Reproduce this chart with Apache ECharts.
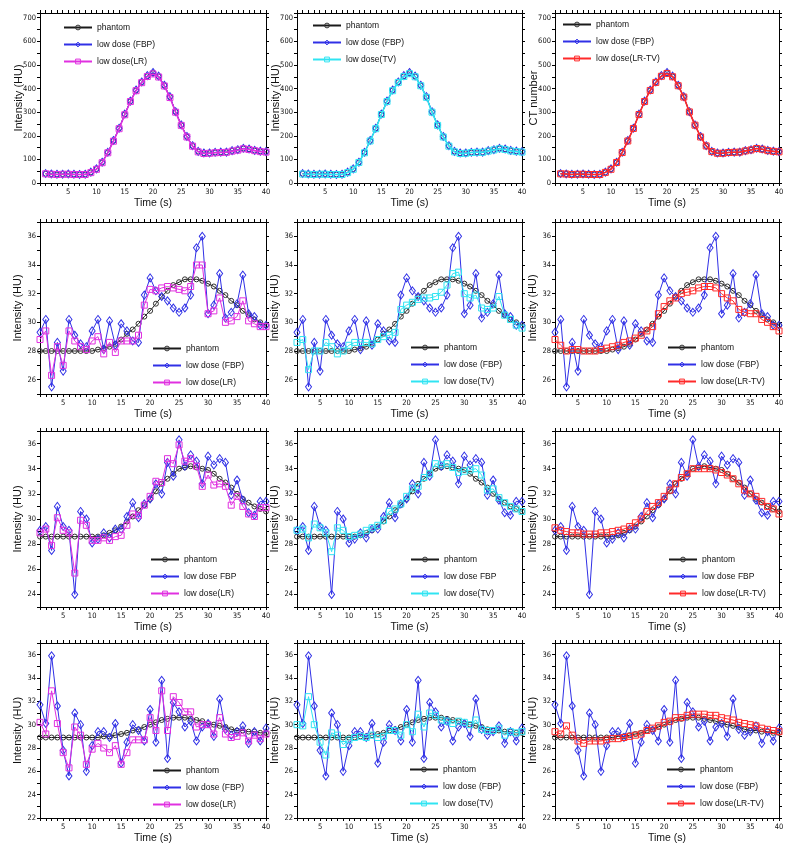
<!DOCTYPE html>
<html><head><meta charset="utf-8">
<script src="https://cdn.jsdelivr.net/npm/echarts@6/dist/echarts.min.js"></script>
<style>html,body{margin:0;padding:0;background:#fff}#c{width:800px;height:847px}</style>
</head><body><div id="c"></div>
<script>
// ---------- data ----------
const time = [1,2,3,4,5,6,7,8,9,10,11,12,13,14,15,16,17,18,19,20,21,22,23,24,25,26,27,28,29,30,31,32,33,34,35,36,37,38,39,40];
const xTickLabels = [5,10,15,20,25,30,35,40];
const yLabelsRow1 = [0,100,200,300,400,500,600,700];
const yLabelsRow2 = [26,28,30,32,34,36];
const yLabelsRow3 = [24,26,28,30,32,34,36];
const yLabelsRow4 = [22,24,26,28,30,32,34,36];

const r1Phantom = [39,38,36,38,38,36,36,36,45,59,87,129,178,231,290,346,392,427,452,465,451,413,364,301,245,196,157,133,126,126,129,130,130,136,140,146,143,137,134,132];
const r1FBP     = [40,38,37,37,38,37,36,37,46,60,88,130,180,232,292,347,394,428,455,468,453,414,366,302,246,197,158,134,127,127,130,131,131,137,141,147,144,138,135,133];
const r1LR      = [39,37,36,37,37,36,36,36,44,58,86,128,177,230,289,345,391,425,451,462,449,411,362,300,244,195,156,132,125,126,128,129,130,135,139,145,142,137,133,131];
const r1TV      = [38,37,36,37,37,36,36,36,44,58,87,128,178,230,290,345,391,426,451,463,450,412,363,300,244,195,156,132,125,126,129,130,130,135,140,145,142,136,133,131];
const r1LRTV    = [39,38,36,37,37,36,36,36,45,58,87,129,178,231,290,345,392,426,452,464,450,412,364,301,245,195,157,133,126,126,129,130,131,136,140,146,143,137,134,132];

const r2Phantom = [28,28,28,28,28,28,28,28,28,28,28.1,28.2,28.3,28.5,28.8,29.2,29.5,29.9,30.4,30.8,31.3,31.8,32.2,32.6,32.8,33.0,33.0,33.0,32.9,32.7,32.5,32.2,31.9,31.5,31.2,30.8,30.5,30.2,30.0,29.8];
const r2FBP     = [29.3,30.2,25.5,28.6,26.6,30.2,29.1,28.5,28.3,29.4,30.2,28.1,30.1,28.4,29.9,29.4,28.7,28.6,31.9,33.1,32.2,31.8,31.5,31.0,30.7,31.0,31.9,35.2,36.0,30.6,31.2,33.4,30.3,30.7,31.3,33.3,30.6,30.4,29.8,29.8];
const r2LR      = [28.8,29.4,26.3,28.3,27.0,29.4,28.7,28.3,28.1,28.7,29.0,27.8,28.6,27.9,28.7,28.7,28.7,29.1,31.2,32.3,32.2,32.4,32.5,32.4,32.3,32.2,32.5,34.0,34.0,30.6,30.8,31.7,30.0,30.1,30.4,31.5,30.1,29.9,29.7,29.7];
const r2TV      = [28.6,28.8,26.7,28.0,28.0,28.6,28.3,27.8,28.0,28.4,28.6,28.6,28.6,28.5,28.8,29.0,29.1,29.3,30.9,31.2,31.4,31.6,31.7,31.7,31.8,32.1,32.6,33.4,33.5,32.0,31.7,31.9,31.0,30.9,31.0,31.8,30.5,30.2,29.8,29.6];
const r2LRTV    = [28.8,28.4,28.0,28.1,28.1,28.0,28.0,28.0,28.1,28.2,28.3,28.4,28.6,28.7,28.9,29.1,29.4,29.7,30.6,31.1,31.5,31.7,32.0,32.1,32.2,32.4,32.5,32.5,32.4,32.0,31.7,31.5,30.9,30.7,30.6,30.6,30.2,30.0,29.7,29.4];

const r3Phantom = [28.6,28.6,28.6,28.6,28.6,28.6,28.6,28.6,28.6,28.6,28.6,28.7,28.9,29.1,29.4,29.8,30.2,30.7,31.1,31.6,32.2,32.8,33.2,33.6,34.0,34.1,34.2,34.1,34.0,33.9,33.6,33.2,32.9,32.5,32.0,31.6,31.3,31.0,30.8,30.6];
const r3FBP     = [29.1,29.4,27.5,31.0,29.4,29.1,24.0,30.6,30.0,28.1,28.4,28.9,28.5,29.2,29.2,30.2,31.3,30.1,31.2,31.6,32.8,32.0,34.5,33.4,36.3,34.2,35.1,34.6,32.8,35.0,34.3,34.8,34.5,31.9,33.1,31.5,30.5,30.3,31.4,31.4];
const r3LR      = [28.9,29.2,27.9,30.1,29.1,28.9,25.7,29.9,29.5,28.3,28.3,28.5,28.3,28.6,28.7,29.5,30.4,30.3,31.1,31.8,33.0,32.9,34.8,34.4,35.9,34.6,34.8,34.2,32.6,33.5,32.7,32.8,32.6,31.1,31.8,31.0,30.4,30.2,30.9,30.9];
const r3TV      = [29.1,29.2,28.5,29.6,29.3,28.9,27.4,29.3,29.1,28.6,28.7,28.8,29.1,29.3,29.5,29.9,30.6,30.8,31.2,31.8,32.4,32.6,33.3,33.6,34.4,34.3,34.4,34.1,33.7,33.8,33.9,34.0,33.5,32.3,32.4,31.7,31.3,31.0,30.8,30.6];
const r3LRTV    = [29.3,29.1,29.0,28.9,28.9,28.8,28.8,28.8,28.9,28.9,29.0,29.1,29.2,29.4,29.7,30.0,30.6,31.0,31.3,31.8,32.3,32.8,33.3,33.6,34.0,34.0,34.0,34.0,33.9,33.7,33.5,33.2,32.8,32.3,32.0,31.8,31.4,31.0,30.8,30.4];

const r4Phantom = [28.9,28.9,28.9,28.9,28.9,28.9,28.9,28.9,28.9,28.9,28.9,29.0,29.0,29.1,29.2,29.3,29.5,29.6,29.8,30.0,30.2,30.4,30.5,30.6,30.6,30.6,30.5,30.4,30.3,30.1,30.0,29.9,29.8,29.6,29.5,29.5,29.4,29.4,29.3,29.3];
const r4FBP     = [31.7,30.1,35.9,31.6,27.8,25.6,31.0,30.0,26.0,28.2,29.4,29.4,28.9,30.1,26.7,28.5,30.0,29.5,28.6,31.3,28.5,33.8,27.1,31.9,31.1,29.8,30.3,28.6,29.8,30.1,29.0,32.2,29.6,29.1,29.4,29.9,28.4,29.4,28.6,29.7];
const r4LR      = [30.2,29.2,32.9,30.1,27.6,26.3,29.8,29.1,26.6,27.9,28.4,28.0,27.6,28.2,26.6,27.6,28.7,28.7,28.7,30.6,29.5,32.9,29.5,32.4,31.9,31.1,31.1,29.8,30.0,30.0,29.2,30.6,29.2,28.9,29.0,29.3,28.6,29.1,28.8,29.2];
const r4TV      = [30.0,29.9,32.4,30.0,28.5,27.4,29.3,29.1,28.3,28.7,28.9,29.0,28.9,29.1,28.9,29.0,29.5,29.5,29.1,30.0,29.4,30.9,29.8,31.0,30.8,30.4,30.3,30.1,30.3,30.2,30.0,30.4,29.6,29.5,29.5,29.7,29.1,29.4,29.3,29.4];
const r4LRTV    = [29.4,29.2,29.9,29.1,28.6,28.4,28.6,28.6,28.6,28.7,28.8,28.8,28.9,29.0,29.1,29.2,29.5,29.7,29.9,30.2,30.3,30.6,30.6,30.8,30.9,30.9,30.9,30.8,30.8,30.6,30.5,30.4,30.2,30.1,30.0,29.9,29.7,29.6,29.5,29.4];

const phantomName = 'phantom';
const fbpNames = ['low dose (FBP)','low dose (FBP)','low dose FBP','low dose (FBP)'];
const methodNames = ['low dose(LR)','low dose(TV)','low dose(LR-TV)'];

// ---------- layout / style ----------
const FONT = 'Liberation Sans, Arial, Helvetica, sans-serif';
const FONT_N = '"Liberation Sans Narrow", "DejaVu Sans Condensed", "Liberation Sans", Arial, sans-serif';
const cols = [{left:40,width:226},{left:297,width:225},{left:555,width:224}];
const rowsL = [{top:13,height:170},{top:222,height:172},{top:431,height:176},{top:643,height:175}];
const rowCfg = [
  {xmin:0, ymin:0,  ymax:720, yInt:50, yLabels:yLabelsRow1, data:[r1Phantom,r1FBP,[r1LR,r1TV,r1LRTV]], yGap:[16,16,16], lw:1.6},
  {xmin:1, ymin:25, ymax:37,  yInt:1,  yLabels:yLabelsRow2, data:[r2Phantom,r2FBP,[r2LR,r2TV,r2LRTV]], yGap:[17,17,17], lw:1},
  {xmin:1, ymin:23, ymax:37,  yInt:1,  yLabels:yLabelsRow3, data:[r3Phantom,r3FBP,[r3LR,r3TV,r3LRTV]], yGap:[17,17,17], lw:1},
  {xmin:1, ymin:22, ymax:37,  yInt:1,  yLabels:yLabelsRow4, data:[r4Phantom,r4FBP,[r4LR,r4TV,r4LRTV]], yGap:[17,17,17], lw:1}
];
const legPos = [
  [[63,23],[312,21],[562,20]],
  [[152,344],[410,343],[667,343]],
  [[150,555],[410,555],[668,555]],
  [[152,766],[409,765],[666,765]]
];
const methodColors = ['#e030e0','#30e4f2','#ff2a2a'];
const blue = '#3030e6', black = '#1a1a1a';

const grid=[], xAxis=[], yAxis=[], series=[], legend=[];
const axLine = {show:true, onZero:false, lineStyle:{color:'#000', width:1}};
const tickSt = {color:'#000', width:1};
const lblSt = {fontSize:7.5, color:'#111', fontFamily:FONT_N};

function pairs(arr){ return time.map((t,i)=>[t,arr[i]]); }

rowCfg.forEach((rc, r) => {
  cols.forEach((cc, c) => {
    const gi = grid.length;
    grid.push({left:cc.left, top:rowsL[r].top, width:cc.width, height:rowsL[r].height, containLabel:false});
    const xi = xAxis.length, yi = yAxis.length;
    xAxis.push({type:'value', gridIndex:gi, position:'bottom', min:rc.xmin, max:40, interval:1,
      axisLine:axLine, axisTick:{show:true, inside:false, length:3, lineStyle:tickSt},
      axisLabel:Object.assign({customValues:xTickLabels, margin:5}, lblSt), splitLine:{show:false},
      name:'Time (s)', nameLocation:'middle', nameGap:15, nameMoveOverlap:false,
      nameTextStyle:{fontSize:10.5, color:'#111', fontFamily:FONT, verticalAlign:'top'}});
    xAxis.push({type:'value', gridIndex:gi, position:'top', min:rc.xmin, max:40, interval:1,
      axisLine:axLine, axisTick:{show:true, inside:false, length:3, lineStyle:tickSt},
      axisLabel:{show:false}, splitLine:{show:false}});
    yAxis.push({type:'value', gridIndex:gi, position:'left', min:rc.ymin, max:rc.ymax, interval:rc.yInt,
      axisLine:axLine, axisTick:{show:true, inside:false, length:3, lineStyle:tickSt},
      axisLabel:Object.assign({customValues:rc.yLabels, margin:4}, lblSt), splitLine:{show:false},
      name:(r===0 && c===2) ? 'CT number' : 'Intensity (HU)', nameLocation:'middle', nameGap:rc.yGap[c],
      nameMoveOverlap:false,
      nameTextStyle:{fontSize:11, color:'#111', fontFamily:FONT}});
    yAxis.push({type:'value', gridIndex:gi, position:'right', min:rc.ymin, max:rc.ymax, interval:rc.yInt,
      axisLine:axLine, axisTick:{show:true, inside:false, length:3, lineStyle:tickSt},
      axisLabel:{show:false}, splitLine:{show:false}});

    const fbpName = fbpNames[r];
    series.push({type:'line', name:phantomName, xAxisIndex:xi, yAxisIndex:yi, data:pairs(rc.data[0]),
      symbol:'circle', symbolSize:5, showSymbol:true,
      lineStyle:{color:black, width:1}, itemStyle:{color:'rgba(0,0,0,0)', borderColor:'#333', borderWidth:1},
      animation:false, z:2});
    series.push({type:'line', name:fbpName, xAxisIndex:xi, yAxisIndex:yi, data:pairs(rc.data[1]),
      symbol:'diamond', symbolSize:[6,8],
      lineStyle:{color:blue, width:1}, itemStyle:{color:'rgba(0,0,0,0)', borderColor:blue, borderWidth:1},
      animation:false, z:3});
    series.push({type:'line', name:methodNames[c], xAxisIndex:xi, yAxisIndex:yi, data:pairs(rc.data[2][c]),
      symbol:'rect', symbolSize:6,
      lineStyle:{color:methodColors[c], width:rc.lw}, itemStyle:{color:'rgba(0,0,0,0)', borderColor:methodColors[c], borderWidth:1},
      animation:false, z:4});

    legend.push({orient:'vertical', left:legPos[r][c][0], top:legPos[r][c][1],
      data:[phantomName, fbpName, methodNames[c]], itemWidth:28, itemHeight:6, itemGap:8,
      itemStyle:{borderWidth:1},
      textStyle:{fontSize:8.5, color:'#111', fontFamily:FONT}, selectedMode:false, padding:0});
  });
});

const chart = echarts.init(document.getElementById('c'), null, {renderer:'canvas'});
chart.setOption({animation:false, backgroundColor:'#fff', grid, xAxis, yAxis, series, legend});
</script></body></html>
